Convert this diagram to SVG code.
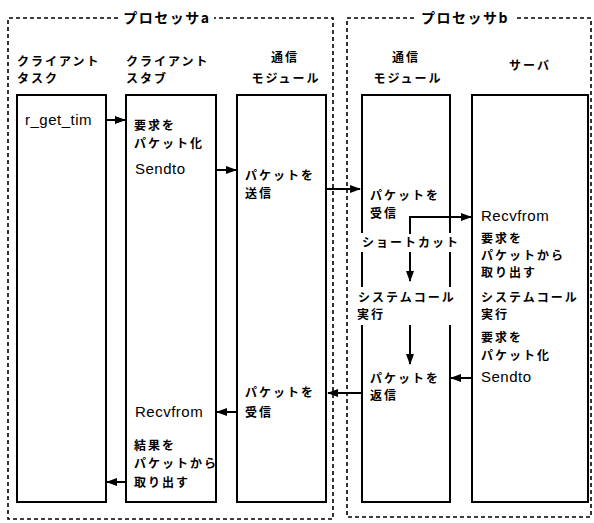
<svg xmlns="http://www.w3.org/2000/svg" width="594" height="523" viewBox="0 0 594 523">
<style>
  .bg{fill:#fff}
  .proc{fill:none;stroke:#000;stroke-width:1.6;stroke-dasharray:4 3}
  .box{fill:none;stroke:#000;stroke-width:2}
  .edge{fill:none;stroke:#000;stroke-width:2}
  .jp{font-family:"Noto Sans CJK JP","Noto Sans",sans-serif;font-weight:bold;font-size:12px;letter-spacing:2px;fill:#000}
  .ttl{font-family:"Noto Sans CJK JP","Noto Sans",sans-serif;font-weight:bold;font-size:14px;letter-spacing:1.5px;fill:#000}
  .lat{font-family:"Liberation Sans",Arial,sans-serif;font-size:15px;letter-spacing:0.5px;fill:#000}
  .mid{text-anchor:middle}
</style>
<defs>
  <marker id="ah" markerUnits="userSpaceOnUse" markerWidth="11" markerHeight="8" refX="10" refY="4" orient="auto">
    <path d="M0,0 L11,4 L0,8 Z" fill="#000"/>
  </marker>
</defs>
<rect class="bg" x="0" y="0" width="594" height="523"/>

<g id="processor-a">
  <path class="proc" d="M118,18 H8 V519 H333 V18 H214"/>
  <text class="ttl mid" x="167" y="23">プロセッサa</text>
</g>
<g id="processor-b">
  <path class="proc" d="M414,18 H347 V517 H591 V18 H514"/>
  <text class="ttl mid" x="465" y="23">プロセッサb</text>
</g>

<g id="client-task">
  <text class="jp" x="17" y="66">クライアント</text>
  <text class="jp" x="17" y="83">タスク</text>
  <rect class="box" x="17" y="95" width="89" height="407"/>
  <text class="lat" x="25" y="125">r_get_tim</text>
</g>

<g id="client-stub">
  <text class="jp" x="126" y="66">クライアント</text>
  <text class="jp" x="126" y="83">スタブ</text>
  <rect class="box" x="126" y="95" width="90" height="407"/>
  <text class="jp" x="134" y="130">要求を</text>
  <text class="jp" x="134" y="148">パケット化</text>
  <text class="lat" x="135" y="174">Sendto</text>
  <text class="lat" x="135" y="417">Recvfrom</text>
  <text class="jp" x="134" y="450">結果を</text>
  <text class="jp" x="134" y="468">パケットから</text>
  <text class="jp" x="134" y="487">取り出す</text>
</g>

<g id="comm-module-a">
  <text class="jp mid" x="285" y="62">通信</text>
  <text class="jp mid" x="286" y="83">モジュール</text>
  <rect class="box" x="237" y="95" width="89" height="407"/>
  <text class="jp" x="245" y="180">パケットを</text>
  <text class="jp" x="245" y="198">送信</text>
  <text class="jp" x="245" y="397">パケットを</text>
  <text class="jp" x="245" y="417">受信</text>
</g>

<g id="comm-module-b">
  <text class="jp mid" x="406" y="62">通信</text>
  <text class="jp mid" x="408" y="83">モジュール</text>
  <path class="box" d="M362,233 V95 H450 V233 M362,252 V287 M450,252 V287 M362,325 V502 H450 V325"/>
  <text class="jp" x="370" y="200">パケットを</text>
  <text class="jp" x="370" y="218">受信</text>
  <text class="jp" x="362" y="247">ショートカット</text>
  <text class="jp" x="358" y="302">システムコール</text>
  <text class="jp" x="357" y="319">実行</text>
  <text class="jp" x="370" y="383">パケットを</text>
  <text class="jp" x="370" y="400">返信</text>
</g>

<g id="server">
  <text class="jp mid" x="530" y="70">サーバ</text>
  <rect class="box" x="472" y="95" width="116" height="407"/>
  <text class="lat" x="481" y="221">Recvfrom</text>
  <text class="jp" x="481" y="243">要求を</text>
  <text class="jp" x="481" y="260">パケットから</text>
  <text class="jp" x="481" y="277">取り出す</text>
  <text class="jp" x="481" y="302">システムコール</text>
  <text class="jp" x="481" y="319">実行</text>
  <text class="jp" x="481" y="342">要求を</text>
  <text class="jp" x="481" y="360">パケット化</text>
  <text class="lat" x="481" y="382">Sendto</text>
</g>

<g id="connectors">
  <line class="edge" x1="106" y1="120" x2="125" y2="120" marker-end="url(#ah)"/>
  <line class="edge" x1="216" y1="170" x2="236" y2="170" marker-end="url(#ah)"/>
  <line class="edge" x1="326" y1="189" x2="360" y2="189" marker-end="url(#ah)"/>
  <path class="edge" d="M410,234 V217 H471" marker-end="url(#ah)"/>
  <line class="edge" x1="410" y1="252" x2="410" y2="281" marker-end="url(#ah)"/>
  <line class="edge" x1="410" y1="325" x2="410" y2="364" marker-end="url(#ah)"/>
  <line class="edge" x1="472" y1="378" x2="451" y2="378" marker-end="url(#ah)"/>
  <line class="edge" x1="362" y1="393" x2="328" y2="393" marker-end="url(#ah)"/>
  <line class="edge" x1="237" y1="412" x2="217" y2="412" marker-end="url(#ah)"/>
  <line class="edge" x1="126" y1="482" x2="107" y2="482" marker-end="url(#ah)"/>
</g>
</svg>
